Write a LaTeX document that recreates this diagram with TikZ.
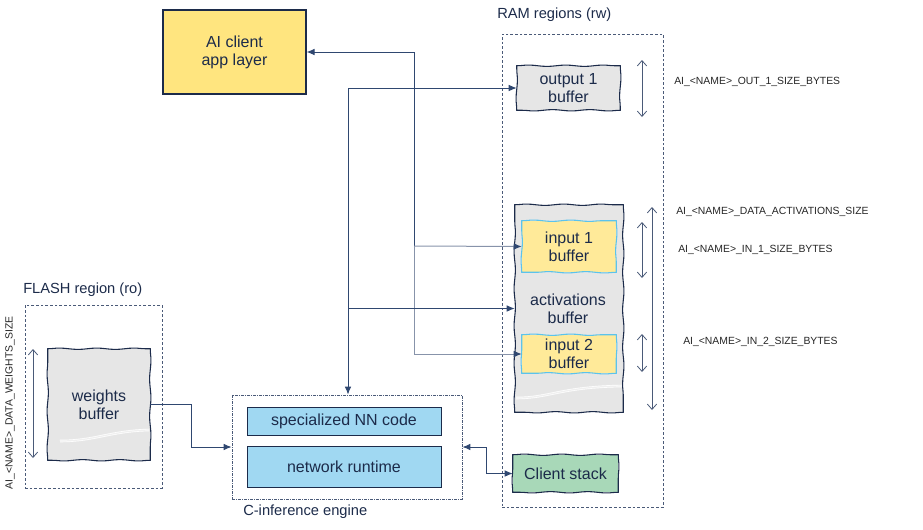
\documentclass[tikz,border=0pt]{standalone}
\usepackage{fontspec}
\setmainfont{Liberation Sans}
\usetikzlibrary{arrows.meta,decorations.pathmorphing}

\definecolor{navy}{HTML}{1C2B4A}
\definecolor{wire}{HTML}{2F4770}
\definecolor{wirelight}{HTML}{8793AA}
\definecolor{frame}{HTML}{4A5A78}
\definecolor{memgray}{HTML}{E6E6E6}
\definecolor{appyellow}{HTML}{FFE57F}
\definecolor{inyellow}{HTML}{FFEA99}
\definecolor{inblue}{HTML}{5BC3EC}
\definecolor{codeblue}{HTML}{A0D8F2}
\definecolor{stackgreen}{HTML}{A8D8B8}

\tikzset{
  every node/.style={text=navy, font=\fontsize{12}{13.5}\selectfont, align=center, inner sep=0pt},
  title/.style={anchor=west, font=\fontsize{11}{13}\selectfont},
  wavyline/.style={line width=.8pt, line cap=round, decorate, decoration={snake, amplitude=.5pt, segment length=28pt}},
  membox/.style={fill=memgray},
  inbox/.style={fill=inyellow},
  codebox/.style={draw=navy, fill=codeblue, line width=.75pt},
  region/.style={draw=frame, line width=.6pt, dash pattern=on 2pt off 1.5pt},
  link/.style={draw=wire, line width=.75pt, -{Latex[length=6pt,width=5pt]}},
  linklight/.style={draw=wirelight, line width=.75pt, -{Latex[length=6pt,width=5pt,color=wire]}},
  sizearrow/.style={draw=frame, line width=.6pt, {Straight Barb[length=4pt,width=7pt]}-{Straight Barb[length=4pt,width=7pt]}},
  sizelabel/.style={anchor=west, text=black!85, font=\fontsize{7.8}{9}\selectfont},
  tear/.style={draw=white, line width=.5pt, double=memgray!60!white, double distance=.9pt}
}

\begin{document}
\begin{tikzpicture}[x=0.75pt,y=-0.75pt]
        \useasboundingbox (0,0) rectangle (923,529);
        %% application
        \node[draw=navy, fill=appyellow, line width=.8pt, minimum width=107.25pt, minimum height=63pt] (client) at (234.5,52) {AI client\\app layer};
        %% FLASH
        \node[region, minimum width=102.75pt, minimum height=137.25pt] (flash) at (93.5,396.5) {};
        \node[title] (flashtitle) at (23,290) {FLASH region (ro)};
        \node[membox, minimum width=76.5pt, minimum height=83.25pt] (weights) at (99,404.5) {weights\\buffer};
        \draw[tear] (60,441) .. controls (95,441) and (110,431) .. (149,430);
        \node[sizelabel, anchor=center, rotate=90] (wsize) at (10,403) {AI\_<NAME>\_DATA\_WEIGHTS\_SIZE};
        %% RAM
        \node[region, minimum width=120.75pt, minimum height=354.75pt] (ram) at (582.5,270.5) {};
        \node[title] (ramtitle) at (497,15) {RAM regions (rw)};
        \node[membox, minimum width=77.25pt, minimum height=33pt] (out1) at (568.5,88) {output 1\\buffer};
        \node[membox, minimum width=81pt, minimum height=155.25pt] (act) at (569,308.5) {};
        \draw[tear] (516,398) .. controls (550,398) and (560,387) .. (622,386);
        \node[inbox, minimum width=70.5pt, minimum height=38.25pt] (in1) at (569,246.5) {input 1\\buffer};
        \node[inbox, minimum width=70.5pt, minimum height=28.5pt] (in2) at (569,354) {input 2\\buffer};
        \node (acttext) at (568,309) {activations\\buffer};
        \node[fill=stackgreen, minimum width=78.75pt, minimum height=27.75pt] (stack) at (565.5,473.5) {Client stack};
        %% wavy outlines
        \foreach \n/\c in {weights/navy, out1/navy, act/navy, stack/navy, in1/inblue, in2/inblue} {
            \draw[wavyline, draw=\c] (\n.north west) -- (\n.north east);
            \draw[wavyline, draw=\c] (\n.north east) -- (\n.south east);
            \draw[wavyline, draw=\c] (\n.south east) -- (\n.south west);
            \draw[wavyline, draw=\c] (\n.south west) -- (\n.north west);
        }
        %% sizes
        \foreach \x/\a/\b in {642/60/117, 642/222/278, 642/334/372, 652/207/410, 33/349/458}
            \draw[sizearrow] (\x,\a) -- (\x,\b);
        \node[sizelabel] (outsize) at (674,82) {AI\_<NAME>\_OUT\_1\_SIZE\_BYTES};
        \node[sizelabel] (actsize) at (676,212) {AI\_<NAME>\_DATA\_ACTIVATIONS\_SIZE};
        \node[sizelabel] (in1size) at (678,250) {AI\_<NAME>\_IN\_1\_SIZE\_BYTES};
        \node[sizelabel] (in2size) at (683,342) {AI\_<NAME>\_IN\_2\_SIZE\_BYTES};
        %% inference engine
        \node[region, dash pattern=on 2pt off 1pt on .5pt off 1pt, minimum width=172.5pt, minimum height=78pt] (engine) at (347,447) {};
        \node[title] (enginetitle) at (243,512) {C-inference engine};
        \node[codebox, minimum width=145.5pt, minimum height=21pt] (nncode) at (344,421) {specialized NN code};
        \node[codebox, minimum width=145.5pt, minimum height=30.75pt] (runtime) at (344,466.5) {network runtime};
        %% connections
        \coordinate (busA) at (414,246);
        \coordinate (busB) at (348,88);
        \coordinate (wbend) at (191,447);
        \coordinate (sbend) at (486,473.5);
        \draw[link] (busA) |- (client.east);
        \draw[linklight] (busA) -- (in1.west);
        \draw[linklight] (busA) |- (in2.west);
        \draw[link] (busB) -- (out1.west);
        \draw[link] (busB) -- (busB |- engine.north);
        \draw[link] (act.west -| busB) -- (act.west);
        \draw[link] (weights.east) -| (wbend) -- (engine.west);
        \draw[link, {Latex[length=6pt,width=5pt]}-{Latex[length=6pt,width=5pt]}] (engine.east) -| (sbend) -- (stack.west);
    \end{tikzpicture}
\end{document}
